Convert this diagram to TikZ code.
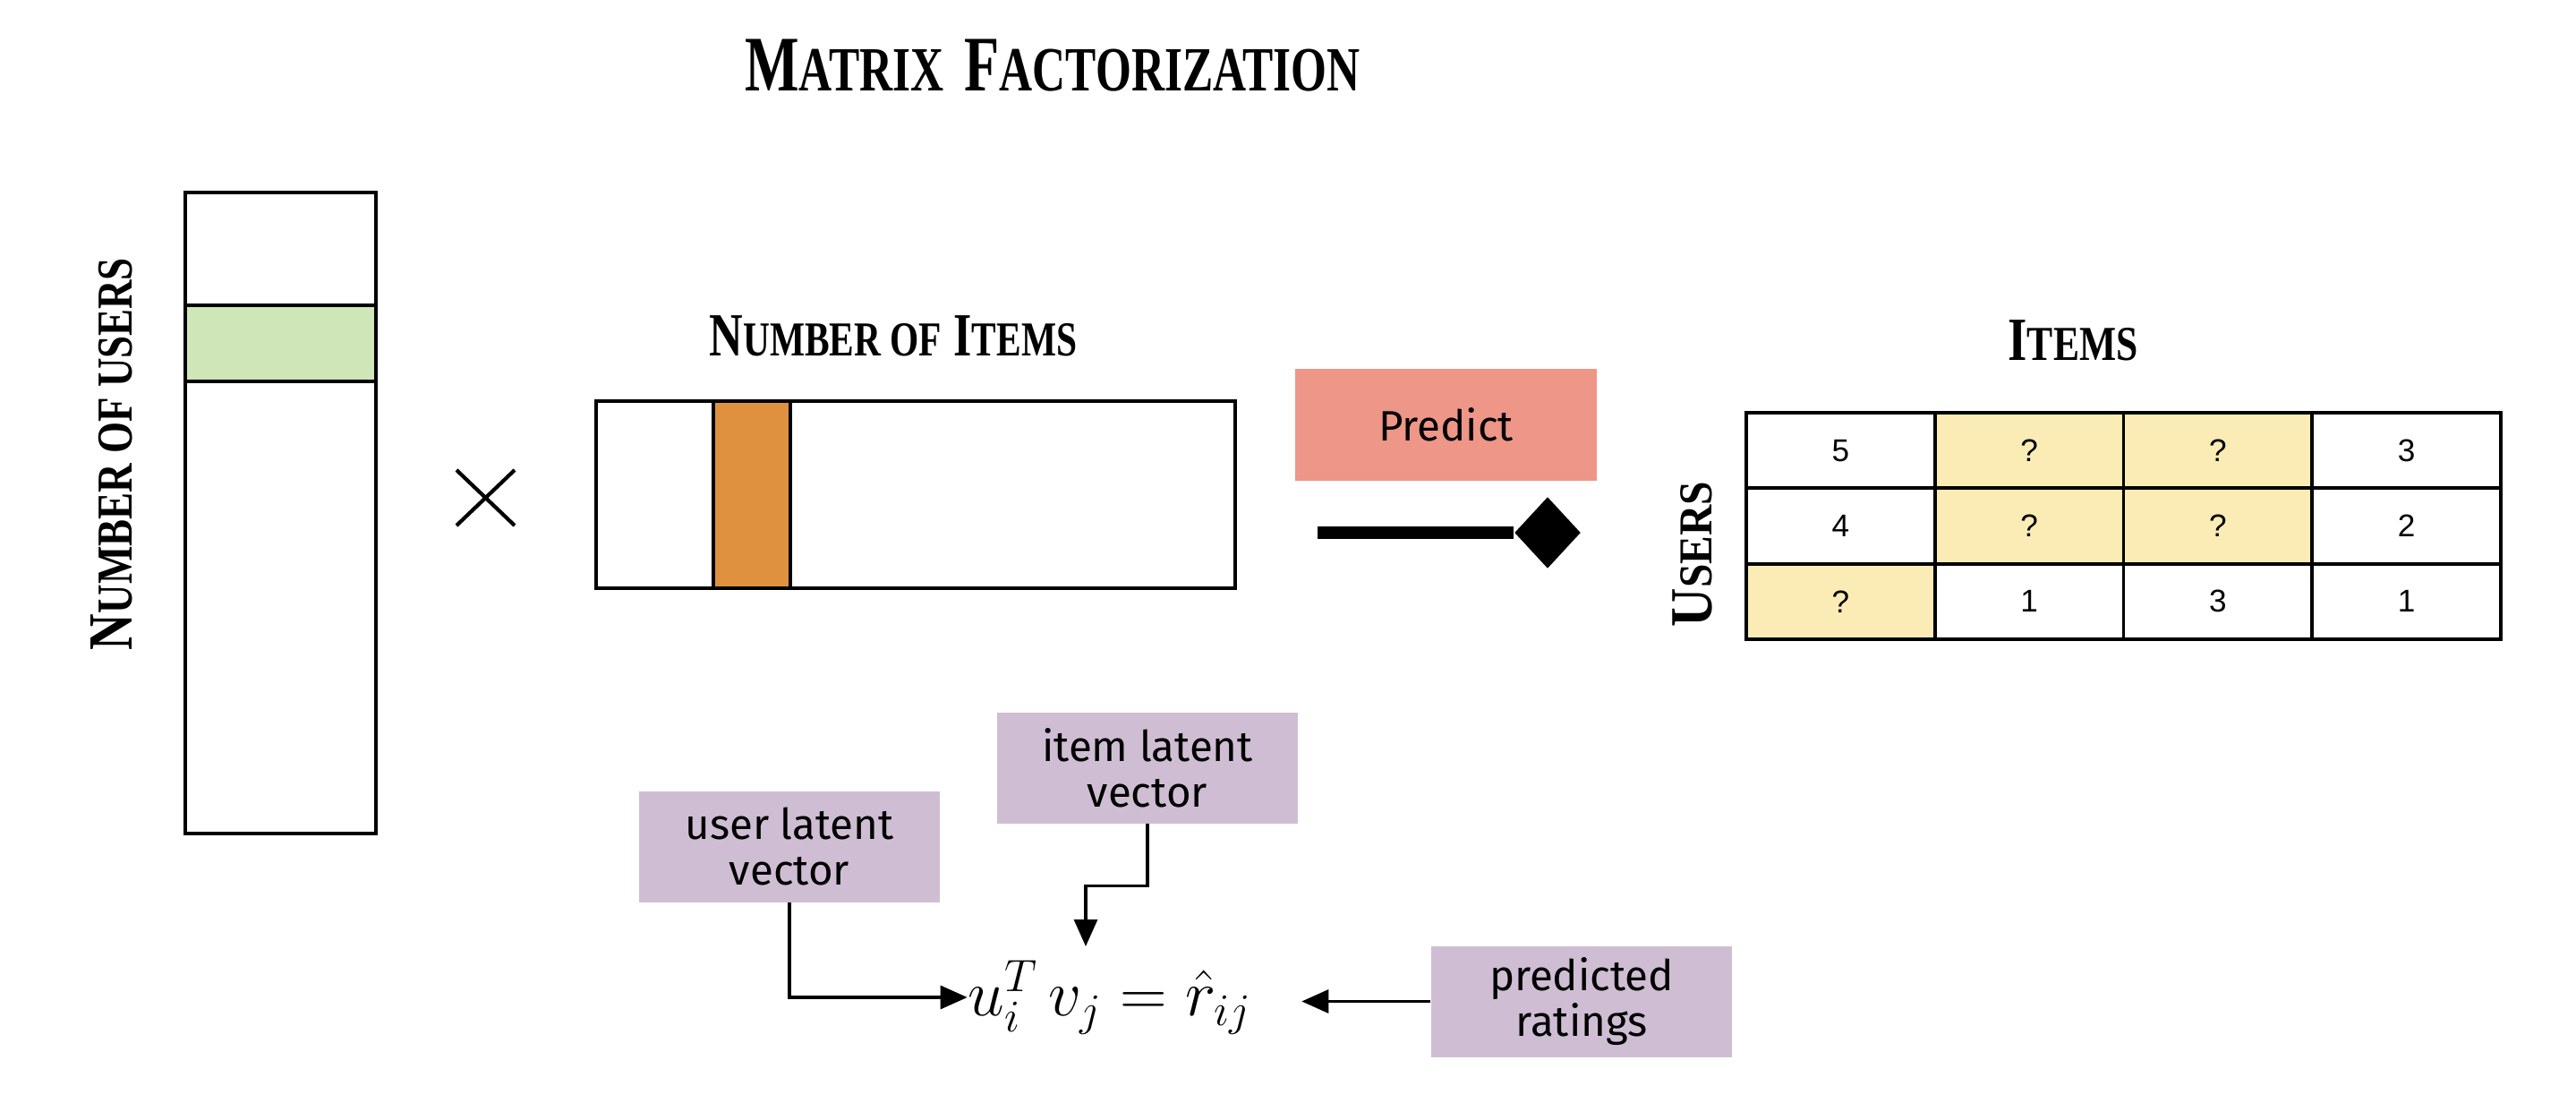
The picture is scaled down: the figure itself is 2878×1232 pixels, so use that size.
\documentclass[tikz,border=0pt]{standalone}
\usepackage{fontspec}
\usepackage{amsmath}
\usepackage{graphicx}
\setmainfont{Liberation Sans}
\newfontfamily\headfont{Liberation Serif}
\newfontfamily\boxfont{Fira Sans}
\usetikzlibrary{shapes.geometric,arrows.meta}

\definecolor{usergreen}{RGB}{207,230,184}
\definecolor{itemorange}{RGB}{224,145,64}
\definecolor{predictpink}{RGB}{238,150,135}
\definecolor{notepurple}{RGB}{207,190,211}
\definecolor{missyellow}{RGB}{250,236,180}

\newcommand{\capword}[4]{{\fontsize{#1}{#1}\selectfont #3}{\fontsize{#2}{#2}\selectfont #4}}

\begin{document}
\begin{tikzpicture}[x={(0.1mm,0mm)},y={(0mm,-0.1mm)},
	frame/.style={draw,line width=1.1pt},
	note/.style={fill=notepurple,minimum width=33.6mm,minimum height=12.4mm,align=center,inner sep=0pt,font=\boxfont\fontsize{13.5}{14.6}\selectfont},
	cell/.style={draw,line width=1.1pt,minimum width=21.075mm,minimum height=8.433mm,inner sep=0pt,font=\fontsize{10}{11}\selectfont},
	link/.style={line width=0.9pt,-{Triangle[length=3mm,width=2.6mm]}}]
	\useasboundingbox (0,0) rectangle (2878,1232);
	\node (title) at (1176,73) {\headfont\bfseries\scalebox{0.73}[1]{\capword{25}{20}{M}{ATRIX}\hspace{9pt}\capword{25}{20}{F}{ACTORIZATION}}};

	\node[rotate=90] (userslabel) at (125,507) {\headfont\bfseries\scalebox{0.8}[1]{\capword{20}{16}{N}{UMBER OF USERS}}};
	\draw[frame,fill=usergreen] (207,341) rectangle (420,426);
	\draw[frame] (207,215) rectangle (420,931);

	\draw[line width=1.2pt] (510,525) -- (575,587) (510,587) -- (575,525);

	\node (itemslabel) at (998,375) {\headfont\bfseries\scalebox{0.76}[1]{\capword{19.5}{15.5}{N}{UMBER OF}\hspace{5pt}\capword{19.5}{15.5}{I}{TEMS}}};
	\draw[frame,fill=itemorange] (797,448) rectangle (883,657);
	\draw[frame] (666,448) rectangle (1380,657);

	\node[fill=predictpink,minimum width=33.7mm,minimum height=12.5mm,font=\boxfont\fontsize{13.5}{14.6}\selectfont] (predict) at (1615.5,474.5) {Predict};
	\node[diamond,fill=black,inner sep=0pt,minimum width=7.4mm,minimum height=8mm] (tip) at (1729,595) {};
	\coordinate (predstart) at (1472,595);
	\draw[line width=4pt] (predstart) -- (tip.west);

	\node (itemstitle) at (2316,380) {\headfont\bfseries\scalebox{0.8}[1]{\capword{19.5}{15.5}{I}{TEMS}}};
	\node[rotate=90] (userstitle) at (1891,619) {\headfont\bfseries\scalebox{0.9}[1]{\capword{19}{15}{U}{SERS}}};
	\foreach \val/\fillc [count=\i from 0] in {5/white,?/missyellow,?/missyellow,3/white,4/white,?/missyellow,?/missyellow,2/white,?/missyellow,1/white,3/white,1/white}{
		\pgfmathtruncatemacro\r{div(\i,4)}
		\pgfmathtruncatemacro\c{mod(\i,4)}
		\node[cell,fill=\fillc] (cell-\r-\c) at ({1951+210.75*(\c+0.5)},{461+84.33*(\r+0.5)}) {\val};
	}

	\node[note] (userlv) at (882,945.5) {user latent\\vector};
	\node[note] (itemlv) at (1282,857.5) {item latent\\vector};
	\node[note] (predlv) at (1767,1118.5) {predicted\\ratings};
	\node[inner sep=0pt,font=\fontsize{21}{23}\selectfont] (formula) at (1240,1114) {$u_i^T\, v_j = \hat{r}_{ij}$};
	\coordinate (vtop) at (1213,1057);

	\draw[link] (userlv.south) |- (formula.west);
	\draw[link] (itemlv.south) -- ++(0,69) -| (vtop);
	\draw[link,shorten >=5.5mm] (predlv.west) -- (predlv.west -| formula.east);
\end{tikzpicture}
\end{document}
